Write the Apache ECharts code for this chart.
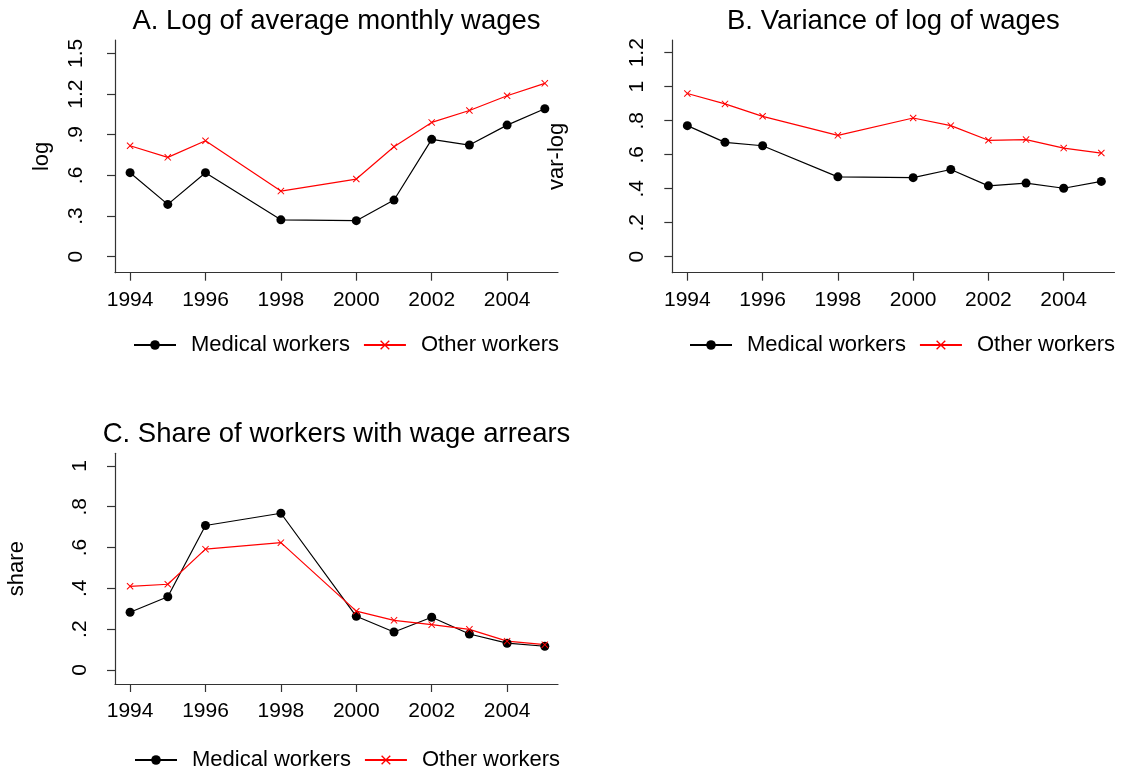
<!DOCTYPE html>
<html>
<head>
<meta charset="utf-8">
<script src="https://cdn.jsdelivr.net/npm/echarts@6/dist/echarts.min.js"></script>
<style>html,body{margin:0;padding:0;background:#fff}#c{width:1125px;height:778px}</style>
</head>
<body>
<div id="c"></div>
<script>
var years = [1994, 1995, 1996, 1998, 2000, 2001, 2002, 2003, 2004, 2005];
var xTicks = [1994, 1996, 1998, 2000, 2002, 2004];

var wageMedical = [0.62, 0.386, 0.62, 0.272, 0.266, 0.418, 0.866, 0.824, 0.971, 1.092];
var wageOther   = [0.819, 0.733, 0.856, 0.484, 0.573, 0.811, 0.991, 1.079, 1.188, 1.279];

var varMedical = [0.771, 0.673, 0.653, 0.470, 0.465, 0.513, 0.417, 0.433, 0.403, 0.443];
var varOther   = [0.960, 0.899, 0.826, 0.714, 0.816, 0.771, 0.685, 0.689, 0.639, 0.610];

var arrMedical = [0.283, 0.359, 0.708, 0.768, 0.263, 0.186, 0.258, 0.176, 0.131, 0.116];
var arrOther   = [0.410, 0.420, 0.592, 0.624, 0.288, 0.243, 0.222, 0.199, 0.141, 0.124];

var yTicksA = [0, 0.3, 0.6, 0.9, 1.2, 1.5];
var yLabelsA = ['0', '.3', '.6', '.9', '1.2', '1.5'];
var yTicksB = [0, 0.2, 0.4, 0.6, 0.8, 1, 1.2];
var yLabelsB = ['0', '.2', '.4', '.6', '.8', '1', '1.2'];
var yTicksC = [0, 0.2, 0.4, 0.6, 0.8, 1];
var yLabelsC = ['0', '.2', '.4', '.6', '.8', '1'];

var titles = ['A. Log of average monthly wages', 'B. Variance of log of wages', 'C. Share of workers with wage arrears'];
var yNames = ['log', 'var-log', 'share'];
var seriesNames = ['Medical workers', 'Other workers'];

var FONT = '"Liberation Sans", Arial, Helvetica, sans-serif';
var AXC = '#333';
var XSYM = 'path://M0,1 L1,0 L5,4 L9,0 L10,1 L6,5 L10,9 L9,10 L5,6 L1,10 L0,9 L4,5 Z';

function pairs(ys) { return years.map(function (y, i) { return [y, ys[i]]; }); }
function labeler(ticks, labels) {
  return function (v) {
    for (var i = 0; i < ticks.length; i++) if (Math.abs(ticks[i] - v) < 1e-6) return labels[i];
    return '';
  };
}

var grids = [
  {left: 115, top: 40, width: 443, height: 232.7},
  {left: 672.3, top: 40, width: 442.2, height: 232.7},
  {left: 115, top: 453.3, width: 443, height: 230.7}
];
var yRanges = [[-0.118, 1.599], [-0.094, 1.275], [-0.069, 1.062]];
var yT = [yTicksA, yTicksB, yTicksC];
var yL = [yLabelsA, yLabelsB, yLabelsC];
var nameGaps = [62, 104, 87];
var labelMargins = [28, 25, 24];
var data = [[wageMedical, wageOther], [varMedical, varOther], [arrMedical, arrOther]];
var legendPos = [{left: 133, top: 334}, {left: 689, top: 334}, {left: 134, top: 749}];
var titleTops = [7, 7, 420];

var option = {
  backgroundColor: '#fff',
  animation: false,
  title: [], grid: [], xAxis: [], yAxis: [], series: [], legend: []
};

for (var p = 0; p < 3; p++) {
  var g = grids[p];
  option.grid.push({left: g.left, top: g.top, width: g.width, height: g.height, containLabel: false});
  option.title.push({
    text: titles[p], left: g.left + g.width / 2, top: titleTops[p], textAlign: 'center', padding: 0,
    textStyle: {fontFamily: FONT, fontSize: 27.5, fontWeight: 'normal', color: '#000'}
  });
  option.xAxis.push({
    type: 'value', gridIndex: p, min: 1993.6, max: 2005.35,
    axisLine: {show: true, onZero: false, lineStyle: {color: AXC, width: 1.2}},
    axisTick: {show: true, length: 8, customValues: xTicks, lineStyle: {color: AXC, width: 1.2}},
    axisLabel: {show: true, customValues: xTicks, margin: 17, fontFamily: FONT, fontSize: 21, color: '#000',
      formatter: function (v) { return String(Math.round(v)); }},
    splitLine: {show: false}
  });
  option.yAxis.push({
    type: 'value', gridIndex: p, min: yRanges[p][0], max: yRanges[p][1],
    name: yNames[p], nameLocation: 'middle', nameGap: nameGaps[p],
    nameTextStyle: {fontFamily: FONT, fontSize: 22, color: '#000'},
    axisLine: {show: true, onZero: false, lineStyle: {color: AXC, width: 1.2}},
    axisTick: {show: true, length: 8, customValues: yT[p], lineStyle: {color: AXC, width: 1.2}},
    axisLabel: {show: true, customValues: yT[p], rotate: 90, margin: labelMargins[p], fontFamily: FONT, fontSize: 21, color: '#000',
      formatter: labeler(yT[p], yL[p])},
    splitLine: {show: false}
  });
  option.series.push({
    name: seriesNames[0], type: 'line', xAxisIndex: p, yAxisIndex: p, data: pairs(data[p][0]),
    symbol: 'circle', symbolSize: 9, showAllSymbol: true,
    lineStyle: {color: '#000', width: 1.2}, itemStyle: {color: '#000'}
  });
  option.series.push({
    name: seriesNames[1], type: 'line', xAxisIndex: p, yAxisIndex: p, data: pairs(data[p][1]),
    symbol: XSYM, symbolSize: 7, showAllSymbol: true,
    lineStyle: {color: '#ff0000', width: 1.2}, itemStyle: {color: '#ff0000'}
  });
  option.legend.push({
    left: legendPos[p].left, top: legendPos[p].top, orient: 'horizontal', padding: 0,
    itemWidth: 42, itemHeight: 12, itemGap: 13, selectedMode: false,
    data: seriesNames,
    textStyle: {fontFamily: FONT, fontSize: 22, color: '#000', padding: [0, 0, 0, 10]}
  });
}

var chart = echarts.init(document.getElementById('c'), null, {renderer: 'canvas'});
chart.setOption(option);
</script>
</body>
</html>
